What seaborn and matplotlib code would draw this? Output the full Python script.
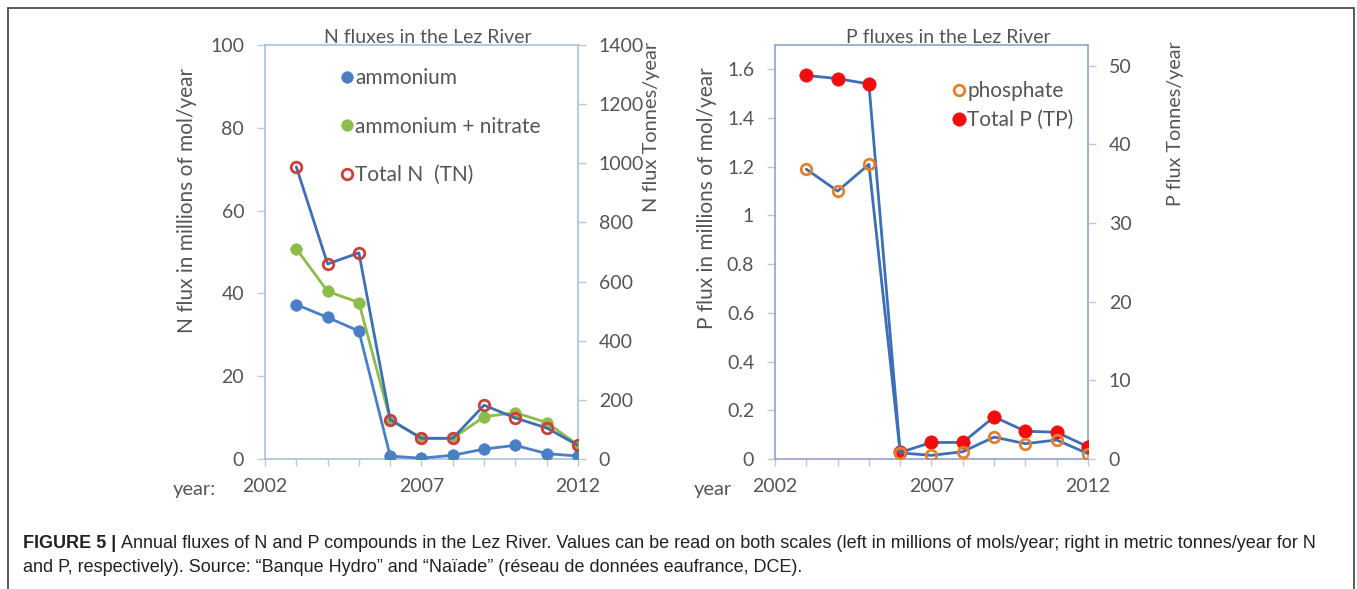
import matplotlib
matplotlib.use('Agg')
import matplotlib.pyplot as plt
import seaborn as sns
from matplotlib.lines import Line2D
from matplotlib.patches import Rectangle
from matplotlib.ticker import FixedLocator, FuncFormatter

# ---------------- data ----------------
years = [2003, 2004, 2005, 2006, 2007, 2008, 2009, 2010, 2011, 2012]
ammonium = [37.3, 34.2, 30.9, 0.7, 0.2, 0.9, 2.4, 3.3, 1.3, 0.7]
ammonium_nitrate = [50.8, 40.5, 37.8, 9.5, 5.0, 5.0, 10.2, 11.2, 8.8, 3.4]
total_n = [70.6, 47.1, 49.8, 9.5, 5.0, 5.0, 13.0, 9.9, 7.5, 3.3]
phosphate = [1.19, 1.10, 1.21, 0.025, 0.015, 0.03, 0.09, 0.063, 0.078, 0.022]
total_p = [1.575, 1.562, 1.54, 0.027, 0.068, 0.068, 0.173, 0.114, 0.11, 0.05]

year_ticks = list(range(2002, 2013))
year_labels = ["2002", "2007", "2012"]
n_left_ticks = [0, 20, 40, 60, 80, 100]
n_right_ticks = [0, 200, 400, 600, 800, 1000, 1200, 1400]
p_left_ticks = [0, 0.2, 0.4, 0.6, 0.8, 1.0, 1.2, 1.4, 1.6]
p_right_ticks = [0, 10, 20, 30, 40, 50]
N_MASS = 14.0
P_MASS = 30.97

caption_bold = "FIGURE 5 |"
caption_1 = ("Annual fluxes of N and P compounds in the Lez River. Values can be read on both scales "
             "(left in millions of mols/year; right in metric tonnes/year for N")
caption_2 = ("and P, respectively). Source: \u201cBanque Hydro\u201d and \u201cNa\u00efade\u201d "
             "(r\u00e9seau de donn\u00e9es eaufrance, DCE).")

# ---------------- style ----------------
sns.set_style('white')
plt.rcParams['font.family'] = ['Lato', 'DejaVu Sans']

W, H = 1357, 589
fig = plt.figure(figsize=(W / 100, H / 100), dpi=100)


def box(l, t, r, b):
    return [l / W, 1 - b / H, (r - l) / W, (b - t) / H]


axN = fig.add_axes(box(265, 45, 578, 459))
axP = fig.add_axes(box(775, 45, 1088, 459))

TXT = '#555555'
TICK = '#c6c6c6'
BLUE = '#4a7fc6'
BLUE_L = '#3c6fb6'
GREEN = '#8cbd4a'
RED_RING = '#c9403c'
ORANGE = '#e3802e'
RED = '#f20d0d'
LW = 2.0


def line(ax, y, color, mfc, mec, ms, mew, z):
    sns.lineplot(x=years, y=y, ax=ax, color=color, linewidth=LW, marker='o',
                 markersize=ms, markerfacecolor=mfc, markeredgecolor=mec,
                 markeredgewidth=mew, zorder=z)


# N panel
line(axN, ammonium, BLUE, BLUE, BLUE, 8.3, 0.5, 3)
line(axN, ammonium_nitrate, GREEN, GREEN, GREEN, 8.3, 0.5, 3)
line(axN, total_n, BLUE_L, 'none', RED_RING, 7.6, 2.0, 4)

# P panel
line(axP, total_p, BLUE_L, RED, RED, 9.6, 0.5, 3)
line(axP, phosphate, BLUE_L, 'none', ORANGE, 7.6, 2.0, 4)


def style_axes(ax, ylim, yticks, spine_color, fmt):
    ax.set_xlim(2002, 2012)
    ax.set_ylim(*ylim)
    ax.set_xlabel('')
    ax.set_ylabel('')
    ax.xaxis.set_major_locator(FixedLocator(year_ticks))
    ax.xaxis.set_major_formatter(FuncFormatter(
        lambda v, p: str(int(round(v))) if str(int(round(v))) in year_labels else ''))
    ax.yaxis.set_major_locator(FixedLocator(yticks))
    ax.yaxis.set_major_formatter(FuncFormatter(fmt))
    ax.tick_params(axis='both', which='major', direction='out', length=6, width=1,
                   color=TICK, labelsize=14, labelcolor=TXT, left=True, bottom=True)
    ax.tick_params(axis='y', pad=9)
    ax.tick_params(axis='x', pad=9, length=5)
    for s in ax.spines.values():
        s.set_visible(True)
        s.set_color(spine_color)
        s.set_linewidth(1.2)


style_axes(axN, (0, 100), n_left_ticks, '#aac0dd', lambda v, p: f"{v:g}")
style_axes(axP, (0, 1.7), p_left_ticks, '#8ea6c8', lambda v, p: f"{v:g}")


def twin(ax, top, yticks):
    t = ax.twinx()
    t.set_ylim(0, top)
    t.yaxis.set_major_locator(FixedLocator(yticks))
    t.yaxis.set_major_formatter(FuncFormatter(lambda v, p: f"{v:g}"))
    t.tick_params(axis='y', direction='out', length=6, width=1, color=TICK, labelsize=14,
                  labelcolor=TXT, right=True, left=False, pad=9)
    for s in t.spines.values():
        s.set_visible(False)
    return t


tN = twin(axN, 100 * N_MASS, n_right_ticks)
tP = twin(axP, 1.7 * P_MASS, p_right_ticks)

# titles
axN.text(0.519, 1.005, "N fluxes in the Lez River", transform=axN.transAxes, ha='center',
         va='baseline', fontsize=14, color=TXT)
axP.text(0.554, 1.005, "P fluxes in the Lez River", transform=axP.transAxes, ha='center',
         va='baseline', fontsize=14, color=TXT)


# axis labels
def ylab(ax, text, px, py, ref, fs):
    ax.set_ylabel(text, fontsize=fs, color=TXT, va='center', ha='center', rotation=90)
    l, t, r, b = ref
    ax.yaxis.set_label_coords((px - l) / (r - l), (b - py) / (b - t))


ylab(axN, "N flux in millions of mol/year", 187, 200, (265, 45, 578, 459), 15)
ylab(tN, "N flux Tonnes/year", 652, 127, (265, 45, 578, 459), 14.4)
ylab(axP, "P flux in millions of mol/year", 707, 198, (775, 45, 1088, 459), 15)
ylab(tP, "P flux Tonnes/year", 1175, 124, (775, 45, 1088, 459), 14.2)

axN.text(-0.227, -0.0725, "year:", transform=axN.transAxes, ha='center', va='center',
         fontsize=14.5, color=TXT)
axP.text(-0.198, -0.0725, "year", transform=axP.transAxes, ha='center', va='center',
         fontsize=14.5, color=TXT)


# legends
def handle(mfc, mec, ms, mew):
    return Line2D([], [], linestyle='none', marker='o', markersize=ms, markerfacecolor=mfc,
                  markeredgecolor=mec, markeredgewidth=mew)


axN.legend(handles=[handle(BLUE, BLUE, 8.3, 0.5), handle(GREEN, GREEN, 8.3, 0.5),
                    handle('none', RED_RING, 7.6, 2.0)],
           labels=["ammonium", "ammonium + nitrate", "Total N  (TN)"],
           loc='center left', bbox_to_anchor=(0.2355, 0.803), frameon=False,
           handlelength=0.8, handletextpad=0.0, borderpad=0, borderaxespad=0,
           labelspacing=1.37, fontsize=15, labelcolor=TXT)
axP.legend(handles=[handle('none', ORANGE, 7.6, 2.0), handle(RED, RED, 9.6, 0.5)],
           labels=["phosphate", "Total P (TP)"],
           loc='center left', bbox_to_anchor=(0.561, 0.854), frameon=False,
           handlelength=0.8, handletextpad=0.0, borderpad=0, borderaxespad=0,
           labelspacing=0.44, fontsize=15, labelcolor=TXT)

# outer frame
fig.patches.append(Rectangle((8 / W, -0.05), (1354 - 8) / W, 1 - 8 / H + 0.05,
                             transform=fig.transFigure, fill=False, edgecolor='#4d4d4d',
                             linewidth=1.3, clip_on=False))

# caption
CAP = ['Liberation Sans', 'DejaVu Sans']
bt = fig.text(23 / W, 1 - 544 / H, caption_bold, family=CAP, fontweight='bold', fontsize=13,
              color='#222222', va='center', ha='left')
fig.canvas.draw()
bb = bt.get_window_extent(fig.canvas.get_renderer())
fig.text((bb.x1 + 5) / W, 1 - 544 / H, caption_1, family=CAP, fontsize=13, color='#222222',
         va='center', ha='left')
fig.text(23 / W, 1 - 567 / H, caption_2, family=CAP, fontsize=13, color='#222222',
         va='center', ha='left')

fig.savefig('out.png', dpi=100)
